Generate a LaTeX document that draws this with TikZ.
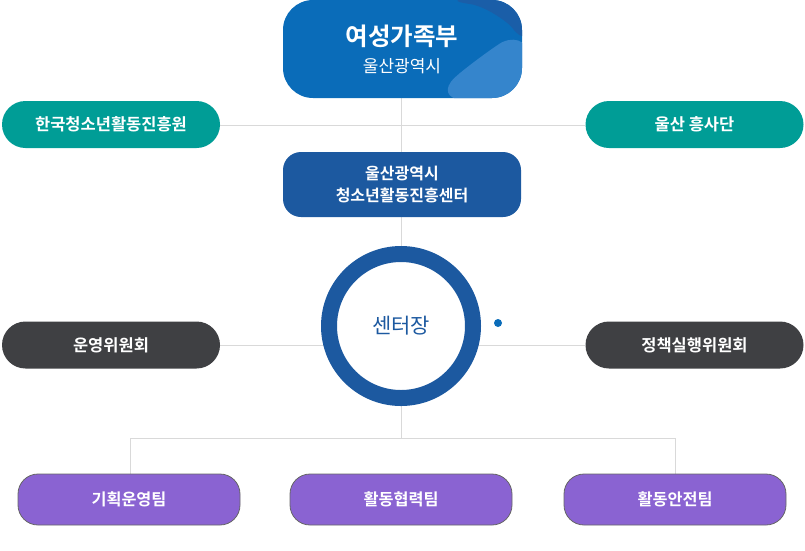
\documentclass[tikz,border=0pt]{standalone}
\usepackage{fontspec}
\setmainfont{Noto Sans CJK KR}[BoldFont={* Bold}]
\usepackage{tikz}
\usetikzlibrary{calc}
\definecolor{topblue}{HTML}{0A6CB9}
\definecolor{topdark}{HTML}{1A5EA8}
\definecolor{toplight}{HTML}{3585CC}
\definecolor{midblue}{HTML}{1C59A0}
\definecolor{teal}{HTML}{009D96}
\definecolor{darkgrey}{HTML}{3F4043}
\definecolor{purple}{HTML}{8A63D2}
\definecolor{linegrey}{HTML}{D9D9D9}
\tikzset{
  wire/.style={draw=linegrey, line width=1pt},
  pill/.style={rounded corners=23.5pt, minimum width=218pt, minimum height=47pt, text=white, font=\fontsize{16.5}{19}\selectfont\bfseries, inner sep=0pt},
  team/.style={rounded corners=20pt, fill=purple, draw=black!60, line width=0.8pt, minimum width=222pt, minimum height=51pt, text=white, font=\fontsize{16.3}{19}\selectfont\bfseries, inner sep=0pt}
}
\begin{document}
\begin{tikzpicture}[x=1pt,y=-1pt]
 \useasboundingbox (0,0) rectangle (805,550);
 %connecting lines
 \coordinate (hubtop) at (401,98);
 \coordinate (rowA) at (401,125);
 \coordinate (rowB) at (401,345);
 \coordinate (split) at (401,438);
 \coordinate (splitL) at (130,438);
 \coordinate (splitR) at (675,438);
 \draw[wire] (hubtop) -- (split);
 \draw[wire] (splitL) -- (splitR);
 \draw[wire] (220,125) -- (585,125);
 \draw[wire] (220,345) -- (585,345);
 %ministry
 \node[fill=topblue, rounded corners=30pt, minimum width=239pt, minimum height=98pt, inner sep=0pt,
   path picture={
     \fill[topdark] ([shift={(-82,0)}]path picture bounding box.north east) .. controls +(45,6) and +(-22,-30) .. ([shift={(8,52)}]path picture bounding box.north east) -- ([shift={(8,-5)}]path picture bounding box.north east) -- cycle;
     \fill[toplight] ([shift={(-89,98)}]path picture bounding box.north east) .. controls +(32,-30) and +(-32,14) .. ([shift={(8,30)}]path picture bounding box.north east) -- ([shift={(8,105)}]path picture bounding box.north east) -- cycle;
   }] (ministry) at (402.5,49) {};
 \node[text=white, font=\fontsize{24.5}{28}\selectfont\bfseries] (ministryA) at (402,36) {여성가족부};
 \node[text=white, font=\fontsize{17}{20}\selectfont] (ministryB) at (402,66) {울산광역시};
 %partners
 \node[pill, fill=teal] (kywa) at (111,124.5) {한국청소년활동진흥원};
 \node[pill, fill=teal] (hsd) at (694.5,124.5) {울산 흥사단};
 %centre
 \node[fill=midblue, rounded corners=18pt, minimum width=238pt, minimum height=65pt, inner sep=0pt, text=white, align=center, font=\fontsize{16}{22}\selectfont\bfseries] (centre) at (402,184.5) {울산광역시\\청소년활동진흥센터};
 %director
 \node[circle, draw=midblue, fill=white, line width=16pt, minimum size=144pt, text=midblue, font=\fontsize{21}{24}\selectfont] (director) at (401,326) {센터장};
 \fill[topblue] (498,323) circle (4);
 %committees
 \node[pill, fill=darkgrey] (ops) at (111,345) {운영위원회};
 \node[pill, fill=darkgrey] (policy) at (694.5,345) {정책실행위원회};
 %teams
 \draw[wire] (splitL) -- (130,474);
 \draw[wire] (splitR) -- (675,474);
 \node[team] (plan) at (129,499.5) {기획운영팀};
 \node[team] (coop) at (401,499.5) {활동협력팀};
 \node[team] (safe) at (675,499.5) {활동안전팀};
\end{tikzpicture}
\end{document}
